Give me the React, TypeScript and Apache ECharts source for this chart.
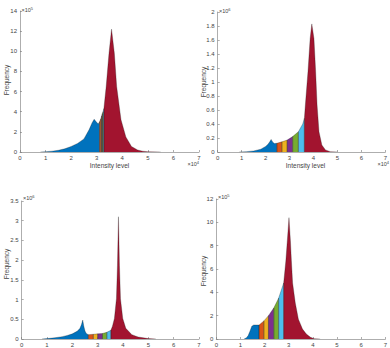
import React, { useEffect, useRef } from "react";
import * as echarts from "echarts";

// Panel 1 (x in 1e4, y in 1e5)
const P1_X = [0.8, 1.0, 1.25, 1.5, 1.75, 2.0, 2.25, 2.5, 2.7, 2.82, 2.9, 2.98, 3.06, 3.11, 3.16, 3.19, 3.22, 3.25, 3.28, 3.37, 3.48, 3.58, 3.69, 3.78, 3.95, 4.14, 4.36, 4.6, 4.8, 5.0, 5.5];
const P1_Y = [0, 0.03, 0.08, 0.17, 0.32, 0.55, 0.85, 1.3, 2.2, 2.9, 3.25, 3.0, 2.78, 3.0, 3.3, 3.55, 3.8, 4.0, 4.3, 6.5, 9.8, 12.2, 9.8, 6.5, 3.2, 1.5, 0.55, 0.2, 0.08, 0.03, 0];
const P1_BOUNDS = [0.8, 3.11, 3.16, 3.19, 3.22, 3.25, 3.28, 5.5];

// Panel 2 (x in 1e4, y in 1e6)
const P2_X = [0.9, 1.2, 1.5, 1.8, 2.0, 2.1, 2.18, 2.23, 2.3, 2.37, 2.47, 2.68, 2.9, 3.13, 3.37, 3.55, 3.62, 3.66, 3.77, 3.86, 3.93, 4.02, 4.09, 4.15, 4.23, 4.35, 4.5, 4.7, 5.0];
const P2_Y = [0, 0.005, 0.015, 0.04, 0.08, 0.11, 0.15, 0.18, 0.14, 0.12, 0.125, 0.145, 0.17, 0.22, 0.29, 0.4, 0.48, 0.67, 1.15, 1.62, 1.83, 1.62, 1.15, 0.67, 0.29, 0.1, 0.03, 0.005, 0];
const P2_BOUNDS = [0.9, 2.47, 2.68, 2.9, 3.13, 3.37, 3.62, 5.0];

// Panel 3 (x in 1e4, y in 1e6)
const P3_X = [0.8, 1.0, 1.3, 1.6, 1.8, 2.0, 2.2, 2.3, 2.36, 2.41, 2.45, 2.5, 2.55, 2.63, 2.83, 3.0, 3.19, 3.36, 3.52, 3.58, 3.66, 3.74, 3.78, 3.82, 3.86, 3.9, 3.99, 4.11, 4.35, 4.6, 5.0, 5.3];
const P3_Y = [0, 0.01, 0.03, 0.06, 0.09, 0.13, 0.2, 0.27, 0.37, 0.48, 0.33, 0.2, 0.14, 0.11, 0.12, 0.13, 0.14, 0.17, 0.22, 0.32, 0.52, 1.02, 1.86, 3.1, 1.86, 1.02, 0.52, 0.27, 0.11, 0.05, 0.01, 0];
const P3_BOUNDS = [0.8, 2.63, 2.83, 3.0, 3.19, 3.36, 3.52, 5.3];

// Panel 4 (x in 1e4, y in 1e5)
const P4_X = [1.15, 1.25, 1.32, 1.4, 1.47, 1.55, 1.65, 1.77, 1.97, 2.16, 2.38, 2.58, 2.79, 2.88, 2.94, 3.01, 3.07, 3.11, 3.16, 3.27, 3.4, 3.57, 3.73, 3.9, 4.05, 4.3];
const P4_Y = [0, 0.1, 0.3, 0.7, 1.1, 1.2, 1.2, 1.2, 1.55, 2.0, 2.66, 3.5, 4.8, 6.7, 8.4, 10.4, 8.4, 6.7, 4.8, 3.1, 1.7, 0.85, 0.42, 0.15, 0.03, 0];
const P4_BOUNDS = [1.15, 1.77, 1.97, 2.16, 2.38, 2.58, 2.79, 4.3];

const COLORS = ["#0072BD", "#D95319", "#EDB120", "#7E2F8E", "#77AC30", "#4DBEEE", "#A2142F"];

const FONT = "Liberation Sans";
const TXT = "#444";

function buildSeries(xs: number[], ys: number[], bounds: number[], idx: number) {
  const out: any[] = [];
  for (let k = 0; k < bounds.length - 1; k++) {
    const b0 = bounds[k];
    const b1 = bounds[k + 1];
    const pts: number[][] = [];
    xs.forEach((x, i) => {
      if (x >= b0 - 1e-9 && x <= b1 + 1e-9) pts.push([x, ys[i]]);
    });
    out.push({
      type: "line",
      xAxisIndex: idx,
      yAxisIndex: idx,
      data: [[b0, 0], ...pts, [b1, 0]],
      showSymbol: false,
      symbol: "none",
      smooth: false,
      lineStyle: { color: "#1a1a1a", width: 0.5, opacity: 0.55 },
      areaStyle: { color: COLORS[k], opacity: 1 },
      z: 2,
    });
  }
  return out;
}

function xAxisCfg(idx: number) {
  return {
    type: "value",
    gridIndex: idx,
    min: 0,
    max: 7,
    interval: 1,
    axisLine: { show: true, onZero: false, lineStyle: { color: "#777", width: 0.6 } },
    axisTick: { show: true, inside: true, length: 2, lineStyle: { color: "#777", width: 0.6 } },
    splitLine: { show: false },
    axisLabel: { fontSize: 6, color: TXT, fontFamily: FONT, margin: 3 },
  };
}

function yAxisCfg(idx: number, max: number, interval: number) {
  return {
    type: "value",
    gridIndex: idx,
    min: 0,
    max,
    interval,
    axisLine: { show: true, lineStyle: { color: "#777", width: 0.6 } },
    axisTick: { show: true, inside: true, length: 2, lineStyle: { color: "#777", width: 0.6 } },
    splitLine: { show: false },
    axisLabel: { fontSize: 6, color: TXT, fontFamily: FONT, margin: 3 },
  };
}

function expText(x: number, y: number, base: string, exp: string, align: string) {
  return {
    type: "text",
    x,
    y,
    style: {
      text: `{a|${base}}{b|${exp}}`,
      align,
      verticalAlign: "middle",
      rich: {
        a: { fontSize: 5.5, fill: TXT, fontFamily: FONT },
        b: { fontSize: 4, fill: TXT, fontFamily: FONT, verticalAlign: "top", padding: [0, 0, 3, 0] },
      },
    },
  };
}

function plainText(x: number, y: number, text: string, rotate = false) {
  return {
    type: "text",
    x,
    y,
    rotation: rotate ? Math.PI / 2 : 0,
    style: {
      text,
      fontSize: 6.5,
      fill: TXT,
      fontFamily: FONT,
      align: "center",
      verticalAlign: "middle",
    },
  };
}

export default function App() {
  const ref = useRef<HTMLDivElement>(null);
  useEffect(() => {
    if (!ref.current) return;
    const chart = echarts.init(ref.current, undefined, { renderer: "svg" });
    chart.setOption({
      animation: false,
      backgroundColor: "#ffffff",
      grid: [
        { left: 20, top: 11, width: 179, height: 141 },
        { left: 217.7, top: 12, width: 176.4, height: 140 },
        { left: 21.7, top: 201, width: 177.3, height: 140 },
        { left: 216.3, top: 199, width: 179.2, height: 142.7 },
      ],
      xAxis: [xAxisCfg(0), xAxisCfg(1), xAxisCfg(2), xAxisCfg(3)],
      yAxis: [yAxisCfg(0, 14, 2), yAxisCfg(1, 2, 0.2), yAxisCfg(2, 3.5, 0.5), yAxisCfg(3, 12, 2)],
      series: [
        ...buildSeries(P1_X, P1_Y, P1_BOUNDS, 0),
        ...buildSeries(P2_X, P2_Y, P2_BOUNDS, 1),
        ...buildSeries(P3_X, P3_Y, P3_BOUNDS, 2),
        ...buildSeries(P4_X, P4_Y, P4_BOUNDS, 3),
      ],
      graphic: [
        expText(21.5, 10, "×10", "5", "left"),
        expText(199, 164, "×10", "4", "right"),
        expText(219, 10.5, "×10", "6", "left"),
        expText(389, 164, "×10", "4", "right"),
        expText(23, 198, "×10", "6", "left"),
        expText(218, 196.5, "×10", "5", "left"),
        plainText(109.5, 165, "Intensity level"),
        plainText(305.5, 165, "Intensity level"),
        plainText(6, 80, "Frequency", true),
        plainText(203, 82, "Frequency", true),
        plainText(6, 264, "Frequency", true),
        plainText(203, 271, "Frequency", true),
      ],
    });
    return () => chart.dispose();
  }, []);
  return <div ref={ref} style={{ width: 390, height: 348, position: "fixed", left: 0, top: 0 }} />;
}
